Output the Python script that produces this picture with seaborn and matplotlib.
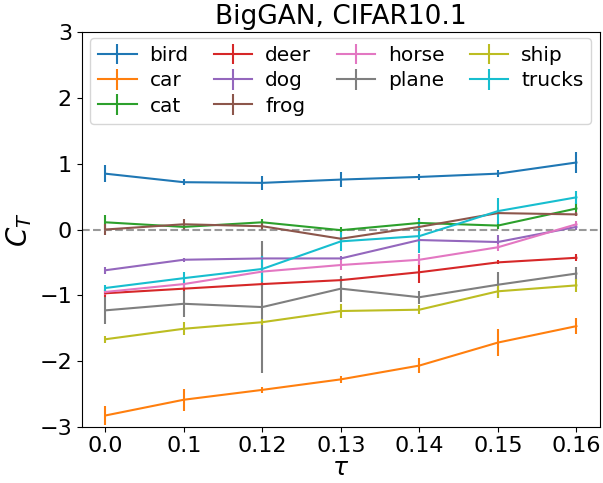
import matplotlib
matplotlib.use('Agg')
import matplotlib.pyplot as plt
import seaborn as sns

tau_labels = ['0.0', '0.1', '0.12', '0.13', '0.14', '0.15', '0.16']
classes = ['bird', 'car', 'cat', 'deer', 'dog', 'frog', 'horse', 'plane', 'ship', 'trucks']

bird = [0.85, 0.72, 0.71, 0.76, 0.80, 0.85, 1.02]
bird_err = [0.13, 0.05, 0.11, 0.11, 0.05, 0.05, 0.16]
car = [-2.83, -2.59, -2.44, -2.28, -2.07, -1.72, -1.47]
car_err = [0.15, 0.17, 0.05, 0.05, 0.12, 0.2, 0.12]
cat = [0.11, 0.04, 0.11, -0.01, 0.10, 0.06, 0.32]
cat_err = [0.11, 0.05, 0.05, 0.05, 0.08, 0.05, 0.08]
deer = [-0.97, -0.90, -0.83, -0.77, -0.65, -0.50, -0.43]
deer_err = [0.05, 0.05, 0.05, 0.05, 0.17, 0.03, 0.05]
dog = [-0.62, -0.46, -0.44, -0.44, -0.16, -0.19, 0.04]
dog_err = [0.05, 0.03, 0.03, 0.03, 0.05, 0.1, 0.05]
frog = [0.0, 0.08, 0.05, -0.14, 0.04, 0.25, 0.23]
frog_err = [0.08, 0.08, 0.05, 0.03, 0.03, 0.03, 0.03]
horse = [-0.95, -0.83, -0.64, -0.54, -0.46, -0.27, 0.08]
horse_err = [0.05, 0.08, 0.05, 0.08, 0.08, 0.05, 0.05]
plane = [-1.23, -1.13, -1.18, -0.90, -1.03, -0.84, -0.67]
plane_err = [0.2, 0.2, 1.0, 0.2, 0.1, 0.2, 0.1]
ship = [-1.67, -1.51, -1.41, -1.24, -1.22, -0.94, -0.85]
ship_err = [0.05, 0.1, 0.05, 0.1, 0.07, 0.1, 0.1]
trucks = [-0.89, -0.74, -0.60, -0.18, -0.10, 0.28, 0.49]
trucks_err = [0.05, 0.1, 0.2, 0.14, 0.25, 0.2, 0.1]

series = [bird, car, cat, deer, dog, frog, horse, plane, ship, trucks]
errors = [bird_err, car_err, cat_err, deer_err, dog_err, frog_err,
          horse_err, plane_err, ship_err, trucks_err]

colors = sns.color_palette('tab10', 10)

fig = plt.figure(figsize=(6.03, 4.83), dpi=100)
ax = fig.add_axes([0.1355, 0.1166, 0.8595, 0.8164])

x = list(range(len(tau_labels)))
for name, vals, err, c in zip(classes, series, errors, colors):
    ax.errorbar(x, vals, yerr=err, color=c, label=name, linewidth=1.5)

ax.axhline(0, color='gray', linestyle='--', alpha=0.8, linewidth=1.5)
ax.set_ylim(-3, 3)
ax.set_xticks(x)
ax.set_xticklabels(tau_labels)
ax.tick_params(labelsize=16)
ax.set_xlabel(r'$\tau$', fontsize=18, labelpad=0)
ax.set_ylabel(r'$C_T$', fontsize=20)
ax.set_title('BigGAN, CIFAR10.1', fontsize=19)
ax.legend(ncol=4, loc='upper center', fontsize=14.5, columnspacing=1.25,
          handlelength=1.9, handletextpad=0.65, labelspacing=0.3,
          borderaxespad=0.3)

plt.savefig('out.png', dpi=100)
plt.close()
